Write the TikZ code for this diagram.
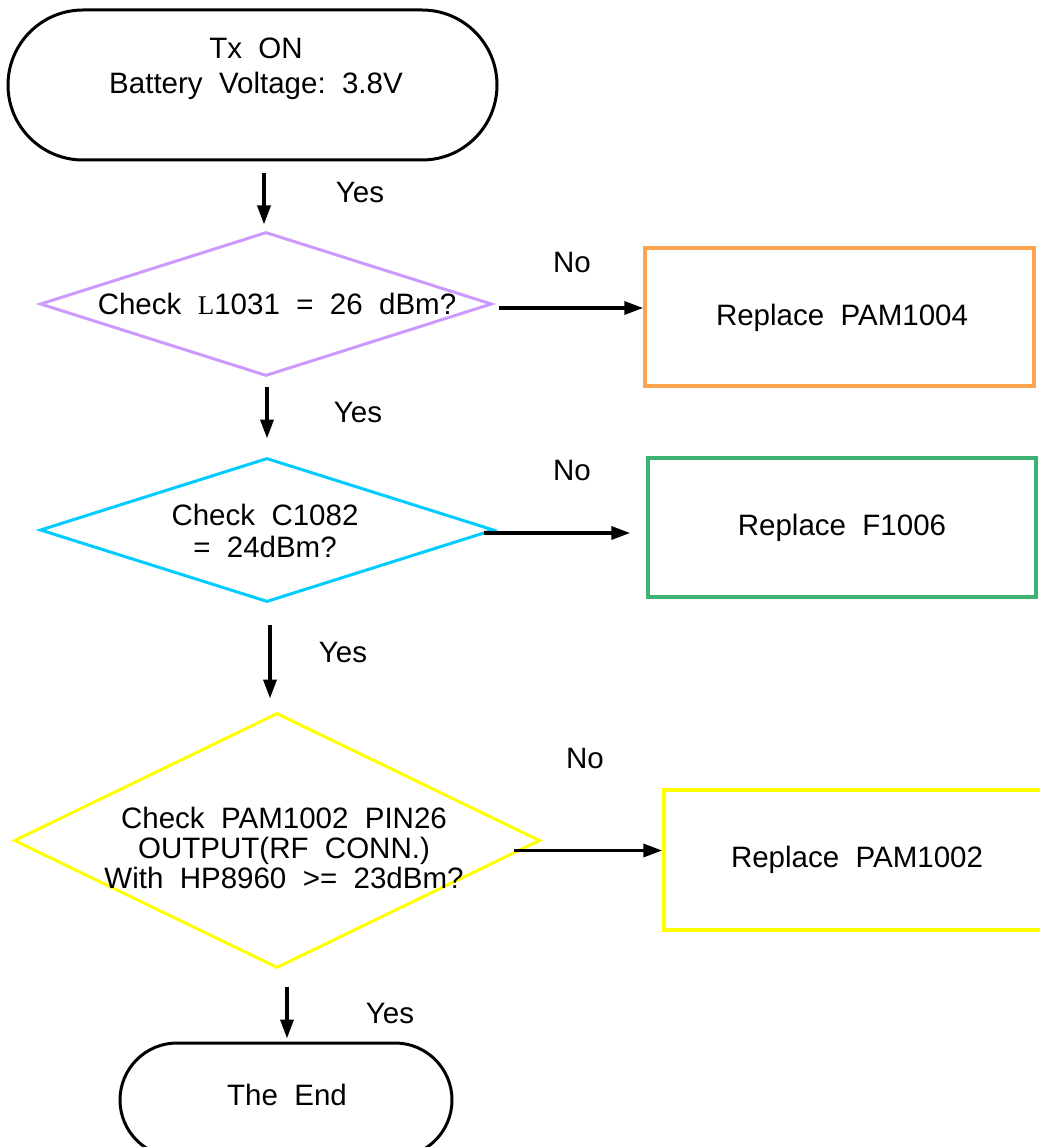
\documentclass[tikz,border=0pt]{standalone}
\usepackage{fontspec}
\setmainfont{Liberation Sans}
\newfontfamily\serifL{Liberation Serif}
\usetikzlibrary{shapes.geometric,shapes.misc,arrows.meta}
\definecolor{cPurple}{HTML}{CC99FF}
\definecolor{cOrange}{HTML}{FFA54F}
\definecolor{cCyan}{HTML}{00CCFF}
\definecolor{cGreen}{HTML}{3CB371}
\definecolor{cYellow}{HTML}{FFFF00}
\begin{document}
\begin{tikzpicture}[x=1pt,y=-1pt,
  font=\fontsize{29.5}{32}\selectfont,
  term/.style={draw=black, line width=3pt, rounded rectangle, inner sep=0pt},
  dec/.style={draw, diamond, line width=3pt, inner sep=0pt},
  act/.style={draw, rectangle, line width=3.5pt, inner sep=0pt},
  txt/.style={align=center, inner sep=0pt},
  lbl/.style={inner sep=0pt},
  flow/.style={line width=3.5pt, -{Triangle[length=19pt,width=13pt]}}
]
\useasboundingbox (0,0) rectangle (1040,1147);

% start terminal
\node[term, minimum width=489pt, minimum height=150pt] (start) at (252.5,85) {};
\node[txt, font=\fontsize{29.5}{35}\selectfont] (startt) at (256,69) {Tx~~ON\\Battery~~Voltage:~~3.8V};

% decision 1
\node[dec, draw=cPurple, minimum width=452pt, minimum height=144pt] (d1) at (266,304) {};
\node[txt] (d1t) at (277,304) {Check~~{\serifL\fontsize{27}{30}\selectfont L}1031~~=~~26~~dBm?};

% action 1
\node[act, draw=cOrange, minimum width=389pt, minimum height=138pt] (b1) at (839.5,317) {};
\node[txt] (b1t) at (842,318) {Replace~~PAM1004};

% decision 2
\node[dec, draw=cCyan, minimum width=454pt, minimum height=144pt] (d2) at (267,530) {};
\node[txt] (d2t) at (265,531) {Check~~C1082\\=~~24dBm?};

% action 2
\node[act, draw=cGreen, minimum width=388pt, minimum height=139pt] (b2) at (842,527.5) {};
\node[txt] (b2t) at (842,528) {Replace~~F1006};

% decision 3
\node[dec, draw=cYellow, minimum width=526pt, minimum height=255pt] (d3) at (277,840.5) {};
\node[txt, font=\fontsize{29.5}{30}\selectfont] (d3t) at (284,848) {Check~~PAM1002~~PIN26\\OUTPUT(RF~~CONN.)\\With~~HP8960~~>=~~23dBm?};

% action 3
\node[act, draw=cYellow, minimum width=390pt, minimum height=140pt] (b3) at (859,860) {};
\node[txt] (b3t) at (857,860) {Replace~~PAM1002};

% end terminal
\node[term, minimum width=332pt, minimum height=114pt] (end) at (286,1100) {};
\node[txt] (endt) at (287,1095) {The~~End};

% labels
\node[lbl] (y1) at (360,192) {Yes};
\node[lbl] (n1) at (572,262) {No};
\node[lbl] (y2) at (358,412) {Yes};
\node[lbl] (n2) at (572,470) {No};
\node[lbl] (y3) at (343,652) {Yes};
\node[lbl] (n3) at (585,758) {No};
\node[lbl] (y4) at (390,1013) {Yes};

% connectors
\draw[flow, shorten <=12pt, shorten >=6pt] ([xshift=-2pt]d1.north |- start.south) -- ([xshift=-2pt]d1.north);
\draw[flow, shorten <=5pt] ([yshift=-4pt]d1.east) -- ([yshift=-4pt]b1.west |- d1.east);
\draw[flow, shorten <=9pt, shorten >=18pt] ([xshift=1pt]d1.south) -- ([xshift=1pt]d1.south |- d2.north);
\draw[flow, shorten <=-12pt, shorten >=16pt] ([yshift=-3pt]d2.east) -- ([yshift=-3pt]b2.west |- d2.east);
\draw[flow, shorten <=21pt, shorten >=13pt] ([xshift=3pt]d2.south) -- ([xshift=3pt]d2.south |- d3.north);
\draw[flow, shorten <=-28pt] ([yshift=-10pt]d3.east) -- ([yshift=-10pt]b3.west |- d3.east);
\draw[flow, shorten <=17pt, shorten >=3pt] ([xshift=10pt]d3.south) -- ([xshift=10pt]d3.south |- end.north);
\end{tikzpicture}
\end{document}
